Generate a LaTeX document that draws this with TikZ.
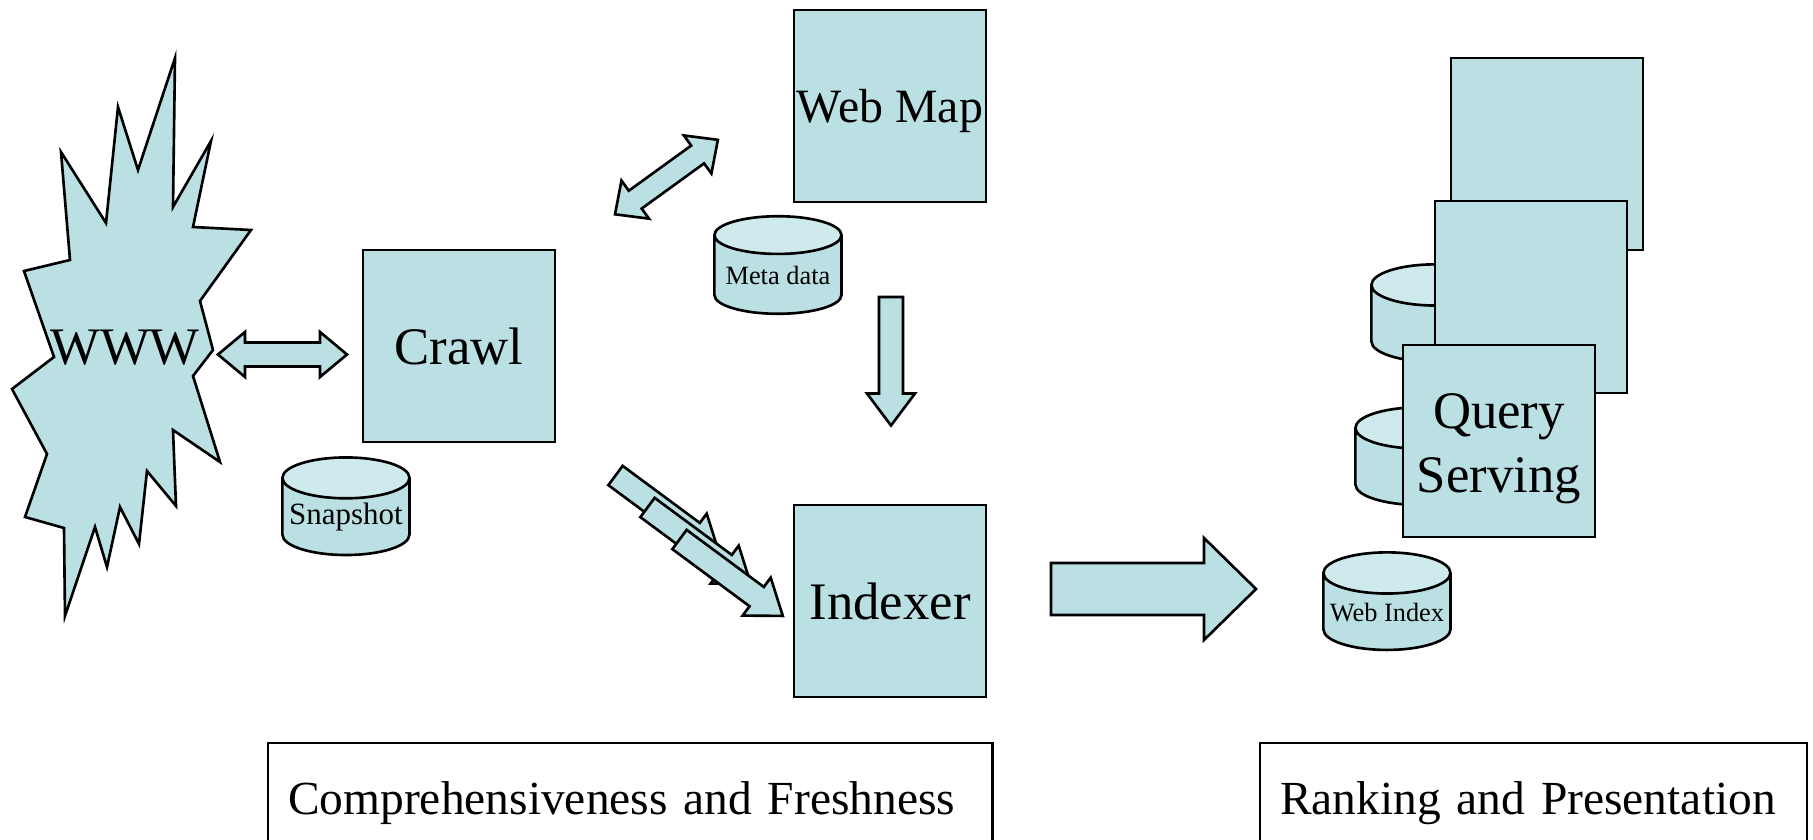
\documentclass[tikz,border=0pt]{standalone}
\usepackage{fontspec}
\setmainfont{Liberation Serif}
\usetikzlibrary{positioning, shapes.geometric}
\definecolor{paleblue}{RGB}{187,224,227}
\definecolor{paletop}{RGB}{206,234,236}

\begin{document}
\begin{tikzpicture}[x=0.01cm, y=-0.01cm, on grid,
    box/.style={draw, fill=paleblue, line width=0.75pt, minimum size=1.92cm, inner sep=0pt, font=\fontsize{15}{18}\selectfont},
    db/.style={cylinder, shape border rotate=90, aspect=0.36, draw, line width=0.75pt, cylinder uses custom fill, cylinder body fill=paleblue, cylinder end fill=paletop, minimum width=1.27cm, minimum height=0.975cm, inner sep=0pt, font=\fontsize{7.5}{9}\selectfont},
    blk/.style={draw, fill=paleblue, line width=0.75pt, line join=miter},
    area/.style={draw, line width=0.6pt, anchor=north west, minimum height=1.2cm, inner xsep=0.2cm, align=left, font=\fontsize{13.5}{16}\selectfont}]

    \useasboundingbox (0,0) rectangle (1813,840);

    \draw[blk] (175,58) -- (173,207) -- (211,141) -- (193,227) -- (251,230) -- (200,301) -- (213,350) -- (193,376)
        -- (220,462) -- (173,430) -- (176,506) -- (147,471) -- (139,544) -- (120,507) -- (107,567) -- (95,527)
        -- (65,616) -- (64,528) -- (25,517) -- (47,454) -- (12,389) -- (54,357) -- (24,271) -- (70,260)
        -- (61,152) -- (106,223) -- (118,107) -- (138,170) -- cycle;
    \node[font=\fontsize{15}{18}\selectfont] (www) at (125,348) {WWW};

    \node[box] (crawl) at (459,346) {Crawl};
    \node[box, font=\fontsize{13.6}{16}\selectfont] (webmap) at (890,106) {\raisebox{-0.16cm}[0pt][0pt]{Web Map}};
    \node[box] (indexer) at (890,601) {Indexer};
    \node[db, font=\fontsize{8.8}{10}\selectfont, below left=1.71cm and 1.13cm of crawl] (snapshot) {Snapshot};
    \node[db, below left=1.69cm and 1.12cm of webmap] (meta) {Meta data};

    \node[box] (qs2) at (1547,154) {};
    \node[db, below left=1.7cm and 1.12cm of qs2] (db2) {\phantom{Web Index}};
    \node[box] (qs1) at (1531,297) {};
    \node[db, below left=1.7cm and 1.12cm of qs1] (db1) {\phantom{Web Index}};
    \node[box] (qs0) at (1499,441)
        {\raisebox{-0.51cm}[0pt][0pt]{\begin{tabular}[b]{@{}c@{}}Query\\Serving\end{tabular}}};
    \node[db, below left=1.71cm and 1.12cm of qs0] (webindex) {Web Index};

    \draw[blk, shift={(218,354.5)}] (0,0) -- (27,-22.5) -- (27,-12) -- (102,-12) -- (102,-22.5) -- (129,0)
        -- (102,22.5) -- (102,12) -- (27,12) -- (27,22.5) -- cycle;
    \draw[blk, shift={(615,214.3)}, rotate=35.9] (0,0) -- (25,-23.5) -- (25,-11) -- (102,-11) -- (102,-23.5) -- (127,0)
        -- (102,23.5) -- (102,11) -- (25,11) -- (25,23.5) -- cycle;
    \draw[blk, shift={(891,297)}, rotate=-90] (0,-12) -- (96.5,-12) -- (96.5,-24) -- (128.5,0) -- (96.5,24) -- (96.5,12) -- (0,12) -- cycle;
    \foreach \k in {0,32,64}
        \draw[blk, shift={(615.5+\k,475.5+\k)}, rotate=-36.5] (0,-12) -- (96,-12) -- (96,-23.6) -- (128.5,0)
            -- (96,23.6) -- (96,12) -- (0,12) -- cycle;
    \draw[blk, shift={(1051,589)}] (0,-26) -- (153,-26) -- (153,-51) -- (205,0) -- (153,51) -- (153,26) -- (0,26) -- cycle;

    \node[area, text width=6.84cm] (fresh) at (267,742) {Comprehensiveness and Freshness};
    \node[area, text width=5.07cm] (rank) at (1259,742) {Ranking and Presentation};
\end{tikzpicture}
\end{document}
